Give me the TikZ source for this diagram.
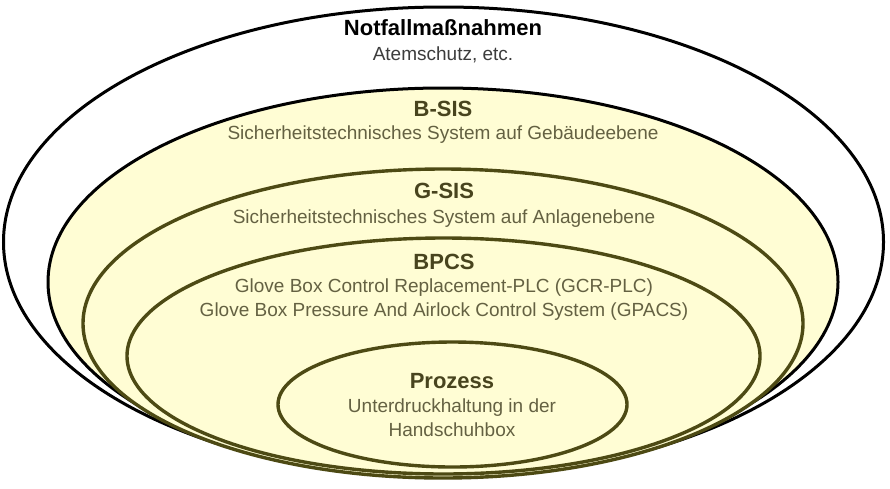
\documentclass[tikz,border=0pt]{standalone}
\usepackage{fontspec}
\setmainfont{Liberation Sans}
\usetikzlibrary{shapes.geometric}
\definecolor{fillyel}{RGB}{255,253,212}
\definecolor{ringolive}{RGB}{77,74,20}
\definecolor{titleol}{RGB}{72,68,30}
\definecolor{subol}{RGB}{100,97,66}
\definecolor{subgray}{RGB}{60,60,60}
\begin{document}
\begin{tikzpicture}[x=1pt,y=-1pt,
  ring/.style={ellipse, inner sep=0pt, outer sep=0pt, line width=3pt},
  blackring/.style={ring, draw=black},
  olivering/.style={ring, draw=ringolive, fill=fillyel, line width=3.4pt},
  ttl/.style={font=\fontsize{22}{26}\selectfont\bfseries, inner sep=0pt, anchor=base},
  sub/.style={font=\fontsize{19}{25}\selectfont, inner sep=0pt, anchor=base}]
\useasboundingbox[fill=white] (0,0) rectangle (890,488);
% rings
\node[blackring, fill=white, minimum width=880pt, minimum height=470pt] (notfall) at (443.5,242) {};
\node[blackring, fill=fillyel, minimum width=790pt, minimum height=388pt] (bsis) at (443,282) {};
\node[olivering, minimum width=720pt, minimum height=309pt] (gsis) at (443,323.5) {};
\node[olivering, minimum width=633pt, minimum height=236pt] (bpcs) at (443.5,356) {};
\node[olivering, minimum width=349pt, minimum height=125pt] (prozess) at (452.5,404.5) {};
% texts
\node[ttl, text=black] (t1) at (443,35.5) {Notfallmaßnahmen};
\node[sub, text=subgray] (s1) at (443,60) {Atemschutz, etc.};
\node[ttl, text=titleol] (t2) at (443,116) {B-SIS};
\node[sub, text=subol] (s2) at (443,139.5) {Sicherheitstechnisches System auf Gebäudeebene};
\node[ttl, text=titleol] (t3) at (444,198) {G-SIS};
\node[sub, text=subol] (s3) at (444,223) {Sicherheitstechnisches System auf Anlagenebene};
\node[ttl, text=titleol] (t4) at (444,269) {BPCS};
\node[sub, text=subol] (s4a) at (444,292) {Glove Box Control Replacement-PLC (GCR-PLC)};
\node[sub, text=subol] (s4b) at (444,316) {Glove Box Pressure And Airlock Control System (GPACS)};
\node[ttl, text=titleol] (t5) at (452,388) {Prozess};
\node[sub, text=subol] (s5a) at (452,412) {Unterdruckhaltung in der};
\node[sub, text=subol] (s5b) at (452,436) {Handschuhbox};
\end{tikzpicture}
\end{document}
